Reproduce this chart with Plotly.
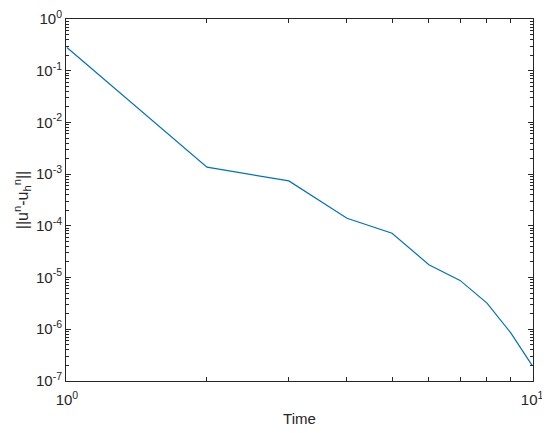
import plotly.graph_objects as go

# dane (skala log-log)
time_steps = [1, 2, 3, 4, 5, 6, 7, 8, 9, 10]
error_norm = [0.283, 1.37e-3, 7.4e-4, 1.40e-4, 7.2e-5, 1.77e-5, 8.8e-6, 3.2e-6, 8.5e-7, 2.0e-7]

y_exponents = [0, -1, -2, -3, -4, -5, -6, -7]
x_exponents = [0, 1]

FONT = "Liberation Sans, Arial, sans-serif"
INK = "#262626"
EPS = 0.002  # odrobina zapasu, żeby skrajne etykiety nie znikały


def minor_vals(exps):
    lo, hi = min(exps), max(exps)
    return [m * 10 ** e for e in range(lo, hi) for m in range(2, 10)]


fig = go.Figure()
fig.add_trace(go.Scatter(x=time_steps, y=error_norm, mode="lines",
                         line=dict(color="#0072BD", width=1.2), showlegend=False))

axis_style = dict(type="log", showline=True, linecolor=INK, linewidth=1,
                  mirror="allticks", ticks="inside", ticklen=5, tickcolor=INK,
                  showgrid=False, zeroline=False, automargin=False,
                  ticklabeloverflow="allow",
                  tickfont=dict(family=FONT, size=15, color=INK))

fig.update_xaxes(**axis_style, range=[min(x_exponents) - EPS, max(x_exponents) + EPS],
                 tickvals=[10.0 ** e for e in x_exponents],
                 ticktext=[f"10<sup>{e}</sup>" for e in x_exponents],
                 ticklabelstandoff=5,
                 minor=dict(tickmode="array", tickvals=minor_vals(x_exponents),
                            ticks="inside", ticklen=4, tickwidth=1, tickcolor=INK, showgrid=False),
                 title=dict(text="Time", font=dict(family=FONT, size=15, color=INK), standoff=6))
fig.update_yaxes(**axis_style, range=[min(y_exponents) - EPS, max(y_exponents) + EPS],
                 tickvals=[10.0 ** e for e in y_exponents],
                 ticktext=[f"10<sup>{e}</sup>" for e in y_exponents],
                 minor=dict(tickmode="array", tickvals=minor_vals(y_exponents),
                            ticks="inside", ticklen=3, tickwidth=1, tickcolor=INK, showgrid=False),
                 title=dict(text="||u<sup>n</sup>-u<sub>h</sub><sup>n</sup>||",
                            font=dict(family=FONT, size=16, color=INK), standoff=3))

# strona ma 8px marginesu body, więc figura jest o 8px mniejsza i przesunięta
fig.update_layout(width=542, height=425, plot_bgcolor="white", paper_bgcolor="white",
                  margin=dict(l=58, r=17, t=11, b=52))

fig.write_html("out.html")
